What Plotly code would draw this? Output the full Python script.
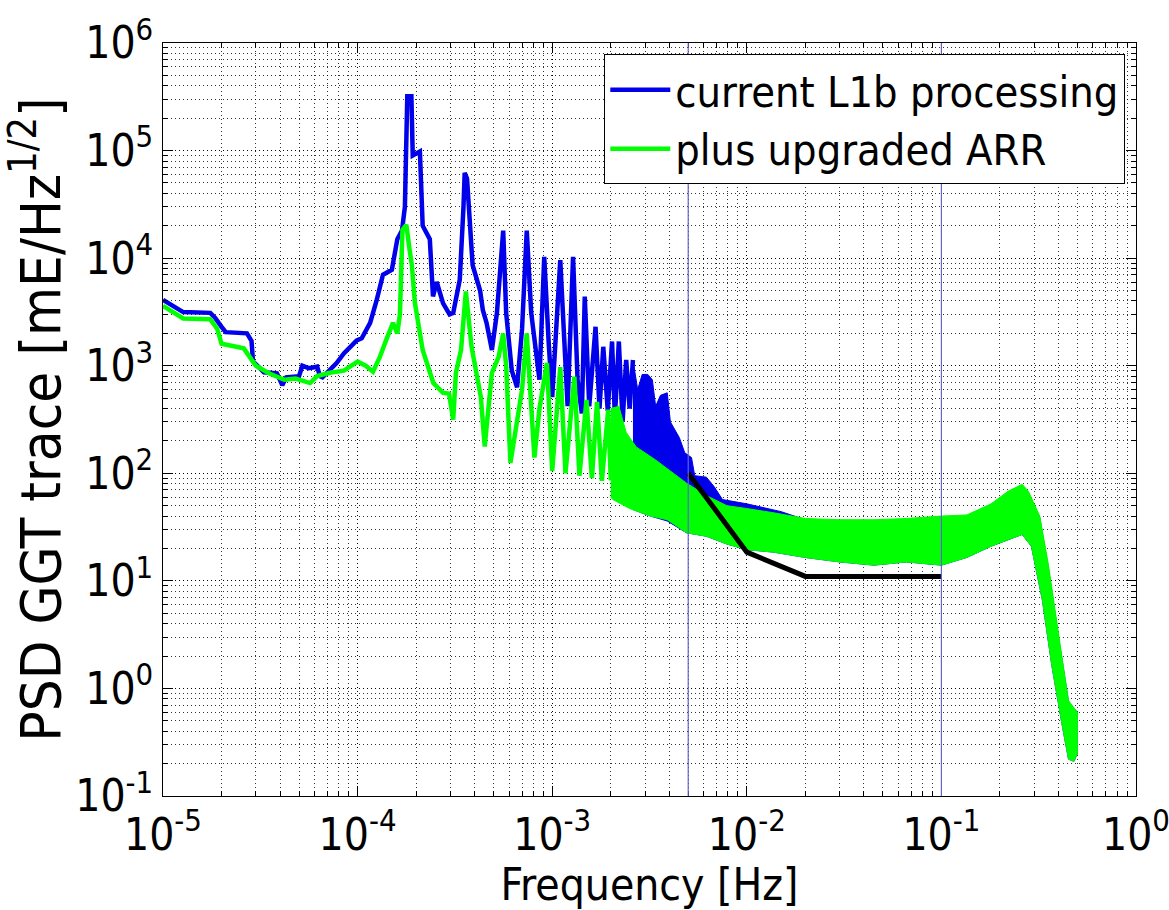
import plotly.graph_objects as go

# ---- data ----
# current L1b processing: low-frequency line part
blue_f = [1.0e-5, 1.15e-5, 1.27e-5, 1.75e-5, 1.85e-5, 2.0e-5, 2.1e-5, 2.7e-5, 2.85e-5, 2.9e-5,
          3.3e-5, 3.85e-5, 4.1e-5, 4.3e-5, 5.0e-5, 5.2e-5, 5.6e-5, 6.2e-5, 6.4e-5, 6.6e-5,
          7.2e-5, 7.8e-5, 8.5e-5, 9.9e-5, 1.05e-4, 1.16e-4, 1.25e-4, 1.35e-4, 1.5e-4, 1.6e-4,
          1.69e-4, 1.75e-4, 1.8e-4, 1.89e-4, 1.92e-4, 2.0e-4, 2.09e-4, 2.16e-4, 2.35e-4, 2.44e-4,
          2.55e-4, 2.75e-4, 2.97e-4, 3.1e-4, 3.35e-4, 3.5e-4, 3.55e-4, 3.65e-4, 3.78e-4, 3.9e-4,
          4.26e-4, 4.4e-4, 4.6e-4, 4.9e-4, 5.2e-4, 5.6e-4, 5.8e-4, 6.2e-4, 6.6e-4, 7.0e-4,
          7.4e-4, 7.8e-4, 8.6e-4, 9.1e-4, 9.6e-4, 1.0e-3, 1.1e-3, 1.15e-3, 1.2e-3, 1.28e-3,
          1.35e-3, 1.42e-3, 1.47e-3, 1.55e-3, 1.67e-3, 1.75e-3, 1.83e-3, 1.93e-3, 2.03e-3, 2.1e-3,
          2.2e-3, 2.3e-3, 2.4e-3, 2.5e-3, 2.6e-3]
blue_v = [4100, 3500, 3150, 3100, 2800, 2300, 2050, 2000, 1700, 1100,
          870, 850, 660, 780, 800, 1000, 950, 980, 800, 780,
          900, 1060, 1300, 1720, 1800, 2500, 4000, 7000, 7800, 15000,
          18000, 30000, 320000, 320000, 90000, 95000, 98000, 20000, 15000, 4400,
          6000, 3800, 3000, 3100, 6300, 30000, 62000, 55000, 18000, 8600,
          5000, 3300, 2500, 1400, 3100, 18000, 3100, 900, 630, 2200,
          18000, 3100, 740, 10300, 1600, 510, 9600, 1600, 420, 10300,
          740, 360, 4400, 420, 2300, 400, 1500, 380, 1680, 330,
          1680, 300, 1130, 400, 1130]

# current L1b processing: dense high-frequency band (upper / lower envelopes)
blue_band_f_up = [2.6e-3, 2.75e-3, 2.9e-3, 3.1e-3, 3.27e-3, 3.4e-3, 3.6e-3, 3.9e-3, 4.05e-3, 4.2e-3,
                  4.5e-3, 4.8e-3, 5.2e-3, 5.4e-3, 6.2e-3, 6.8e-3, 7.5e-3, 1.0e-2, 1.5e-2, 2.0e-2,
                  3.0e-2, 4.5e-2, 6.6e-2, 0.1, 0.135, 0.18, 0.22, 0.26, 0.28, 0.32,
                  0.355, 0.4, 0.45, 0.5]
blue_band_v_up = [1130, 600, 830, 830, 740, 420, 530, 560, 300, 270,
                  215, 155, 140, 95, 92, 75, 57, 52, 44, 37,
                  36, 36, 37, 39, 40, 50, 66, 76, 66, 39,
                  13, 3.0, 0.75, 0.6]
blue_band_f_lo = [2.6e-3, 3.2e-3, 3.9e-3, 4.9e-3, 6.2e-3, 7.9e-3, 1.0e-2, 1.37e-2, 2.0e-2, 3.0e-2,
                  4.5e-2, 6.6e-2, 0.1, 0.135, 0.18, 0.22, 0.26, 0.29, 0.33, 0.37,
                  0.42, 0.45, 0.48, 0.5]
blue_band_v_lo = [46, 40, 36, 28, 26, 22, 19.5, 18.5, 16.5, 15,
                  14, 15, 14, 16.5, 21, 24, 27, 21, 6.7, 1.6,
                  0.43, 0.22, 0.21, 0.25]

# plus upgraded ARR: low-frequency line part
green_f = [1.0e-5, 1.1e-5, 1.27e-5, 1.75e-5, 1.9e-5, 2.0e-5, 2.6e-5, 3.0e-5, 3.5e-5, 4.2e-5,
           4.8e-5, 5.7e-5, 6.2e-5, 7.2e-5, 8.5e-5, 1.0e-4, 1.1e-4, 1.2e-4, 1.3e-4, 1.4e-4,
           1.52e-4, 1.6e-4, 1.65e-4, 1.7e-4, 1.78e-4, 1.85e-4, 1.9e-4, 1.97e-4, 2.16e-4, 2.45e-4,
           2.75e-4, 2.95e-4, 3.1e-4, 3.2e-4, 3.4e-4, 3.6e-4, 3.7e-4, 3.85e-4, 4.3e-4, 4.5e-4,
           4.9e-4, 5.3e-4, 5.6e-4, 5.8e-4, 6.1e-4, 6.5e-4, 7.0e-4, 7.4e-4, 7.7e-4, 8.1e-4,
           8.6e-4, 9.4e-4, 1.0e-3, 1.1e-3, 1.17e-3, 1.3e-3, 1.38e-3, 1.5e-3, 1.6e-3, 1.7e-3,
           1.8e-3, 1.94e-3, 2.0e-3]
green_v = [3600, 3200, 2750, 2700, 2200, 1600, 1450, 1000, 850, 740,
           760, 690, 800, 860, 900, 1090, 1000, 880, 1200, 1720,
           2500, 2000, 3000, 18300, 20400, 12000, 8600, 3840, 1400, 690,
           560, 550, 315, 860, 1400, 4900, 3000, 1500, 510, 177,
           860, 1200, 2000, 1000, 125, 250, 600, 2000, 700, 140,
           400, 1060, 105, 970, 100, 790, 95, 480, 90, 460,
           85, 390, 86]

# plus upgraded ARR: dense high-frequency band
green_band_f_up = [2.0e-3, 2.2e-3, 2.4e-3, 2.7e-3, 3.4e-3, 4.2e-3, 4.9e-3, 6.2e-3, 7.9e-3, 1.0e-2,
                   1.37e-2, 2.0e-2, 3.0e-2, 4.5e-2, 6.6e-2, 0.1, 0.135, 0.18, 0.22, 0.26,
                   0.28, 0.32, 0.355, 0.4, 0.45, 0.5]
green_band_v_up = [400, 420, 240, 176, 133, 100, 81, 62, 50, 47,
                   43, 38, 37, 37, 38, 40, 41, 52, 68, 79,
                   68, 40, 14, 3.2, 0.77, 0.6]
green_band_f_lo = [2.0e-3, 2.05e-3, 2.5e-3, 3.2e-3, 3.9e-3, 4.9e-3, 6.2e-3, 7.9e-3, 1.0e-2, 1.37e-2,
                   2.0e-2, 3.0e-2, 4.5e-2, 6.6e-2, 0.1, 0.135, 0.18, 0.22, 0.26, 0.29,
                   0.33, 0.37, 0.42, 0.45, 0.48, 0.5]
green_band_v_lo = [60, 57, 47, 40, 37, 28, 26, 22, 19.5, 18.5,
                   16.5, 15, 14, 15, 14, 16.5, 21, 24, 27, 21,
                   6.7, 1.6, 0.43, 0.22, 0.21, 0.25]

# requirement line (black)
req_f = [5e-3, 1e-2, 2e-2, 1e-1]
req_v = [100, 18.5, 11, 11]

# measurement bandwidth markers
band_edges = [5e-3, 1e-1]

# tick labels
x_tickvals = [1e-5, 1e-4, 1e-3, 1e-2, 1e-1, 1e0]
x_ticktext = ["10<sup>-5</sup>", "10<sup>-4</sup>", "10<sup>-3</sup>", "10<sup>-2</sup>",
              "10<sup>-1</sup>", "10<sup>0</sup>"]
y_tickvals = [1e-1, 1e0, 1e1, 1e2, 1e3, 1e4, 1e5, 1e6]
y_ticktext = ["10<sup>-1</sup>", "10<sup>0</sup>", "10<sup>1</sup>", "10<sup>2</sup>",
              "10<sup>3</sup>", "10<sup>4</sup>", "10<sup>5</sup>", "10<sup>6</sup>"]

BLUE = "rgb(0,0,235)"
GREEN = "rgb(0,255,0)"
FONT = "DejaVu Sans Condensed, Liberation Sans, Arial, sans-serif"

fig = go.Figure()

# blue
fig.add_trace(go.Scatter(
    x=blue_band_f_up + blue_band_f_lo[::-1], y=blue_band_v_up + blue_band_v_lo[::-1],
    fill="toself", fillcolor=BLUE, line=dict(color=BLUE, width=1), mode="lines",
    showlegend=False, hoverinfo="skip"))
fig.add_trace(go.Scatter(x=blue_f, y=blue_v, mode="lines", name="current L1b processing",
                         line=dict(color=BLUE, width=4.5)))
# green
fig.add_trace(go.Scatter(
    x=green_band_f_up + green_band_f_lo[::-1], y=green_band_v_up + green_band_v_lo[::-1],
    fill="toself", fillcolor=GREEN, line=dict(color=GREEN, width=1), mode="lines",
    showlegend=False, hoverinfo="skip"))
fig.add_trace(go.Scatter(x=green_f, y=green_v, mode="lines", name="plus upgraded ARR",
                         line=dict(color=GREEN, width=4.5)))
# black requirement
fig.add_trace(go.Scatter(x=req_f, y=req_v, mode="lines", showlegend=False,
                         line=dict(color="black", width=5)))

for f in band_edges:
    fig.add_shape(type="line", xref="x", yref="paper", x0=f, x1=f, y0=0, y1=1,
                  line=dict(color="rgb(100,100,205)", width=1.2), layer="above")

axis_common = dict(
    type="log", showline=True, linecolor="black", linewidth=1, mirror="ticks",
    ticks="inside", ticklen=10, tickcolor="black", tickmode="array",
    ticklabeloverflow="allow", automargin=False,
    showgrid=True, gridcolor="rgba(0,0,0,0.9)", griddash="1px,3px", gridwidth=1,
    zeroline=False,
    tickfont=dict(family=FONT, size=44, color="black"),
    minor=dict(ticks="inside", ticklen=5, tickcolor="black", dtick="D1",
               showgrid=True, gridcolor="rgba(0,0,0,0.8)", griddash="1px,3px", gridwidth=1),
)

fig.update_layout(
    width=1169, height=910,
    margin=dict(l=163, r=33, t=43, b=114, autoexpand=False),
    paper_bgcolor="white", plot_bgcolor="white",
    xaxis=dict(axis_common, range=[-5, 0], tickvals=x_tickvals, ticktext=x_ticktext,
               title=dict(text="Frequency [Hz]", font=dict(family=FONT, size=44, color="black"),
                          standoff=2)),
    yaxis=dict(axis_common, range=[-1, 6], tickvals=y_tickvals, ticktext=y_ticktext,
               title=dict(text="PSD GGT trace [mE/Hz<sup>1/2</sup>]",
                          font=dict(family=FONT, size=56, color="black"), standoff=6)),
    legend=dict(x=0.989, y=0.985, xanchor="right", yanchor="top",
                bgcolor="white", bordercolor="black", borderwidth=1, itemwidth=60,
                font=dict(family=FONT, size=43, color="black"), tracegroupgap=0),
    showlegend=True,
)

fig.write_html("out.html")
